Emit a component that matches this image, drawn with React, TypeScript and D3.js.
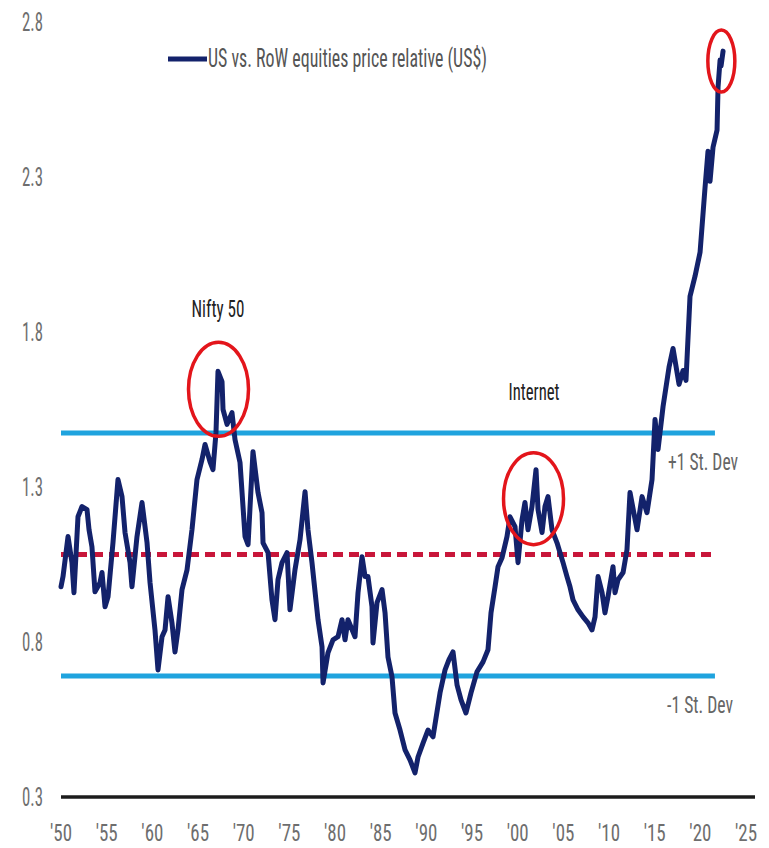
import React from "react";
import * as d3 from "d3";

// US vs. rest-of-world equities price relative (US$), sampled through time
const years: number[] = [
  1950.0, 1950.22, 1950.77, 1951.2, 1951.42, 1951.86, 1952.3, 1952.85, 1953.07, 1953.39,
  1953.72, 1954.27, 1954.49, 1954.82, 1955.15, 1955.69, 1956.24, 1956.68, 1957.01, 1957.56,
  1957.77, 1958.32, 1958.87, 1959.42, 1959.75, 1960.29, 1960.62, 1961.06, 1961.39, 1961.72,
  1962.15, 1962.48, 1962.81, 1963.25, 1963.8, 1964.34, 1964.89, 1965.44, 1965.77, 1966.31,
  1966.64, 1966.97, 1967.19, 1967.63, 1967.74, 1968.18, 1968.72, 1969.05, 1969.6, 1970.15,
  1970.48, 1971.02, 1971.57, 1972.01, 1972.12, 1972.67, 1973.1, 1973.43, 1973.76, 1974.2,
  1974.75, 1975.07, 1975.62, 1976.17, 1976.72, 1977.04, 1977.48, 1978.14, 1978.58, 1978.69,
  1979.23, 1979.78, 1980.33, 1980.77, 1981.1, 1981.42, 1982.19, 1982.52, 1982.96, 1983.29,
  1983.61, 1984.05, 1984.16, 1984.6, 1985.15, 1985.48, 1985.8, 1986.24, 1986.57, 1987.12,
  1987.67, 1988.21, 1988.76, 1989.09, 1989.64, 1990.18, 1990.73, 1991.5, 1992.05, 1992.48,
  1992.92, 1993.36, 1993.8, 1994.34, 1994.89, 1995.55, 1996.21, 1996.75, 1997.08, 1997.52,
  1997.85, 1998.29, 1998.83, 1999.16, 1999.71, 2000.04, 2000.48, 2000.8, 2001.13, 2001.57,
  2002.01, 2002.23, 2002.67, 2002.99, 2003.32, 2003.76, 2004.31, 2004.64, 2004.97, 2005.4,
  2005.73, 2006.06, 2006.61, 2007.16, 2007.7, 2008.14, 2008.47, 2008.8, 2009.24, 2009.56,
  2009.89, 2010.44, 2010.66, 2010.99, 2011.54, 2011.97, 2012.3, 2013.07, 2013.62, 2014.16,
  2014.71, 2015.04, 2015.37, 2015.92, 2016.57, 2017.01, 2017.67, 2018.11, 2018.43, 2018.87,
  2019.42, 2019.97, 2020.51, 2020.84, 2021.06, 2021.39, 2021.83, 2021.94, 2022.16, 2022.27,
  2022.49,
];

const relative: number[] = [
  0.978, 1.011, 1.14, 1.056, 0.959, 1.204, 1.237, 1.227, 1.162, 1.107,
  0.962, 0.991, 1.024, 0.914, 0.946, 1.12, 1.324, 1.269, 1.153, 1.056,
  0.978, 1.14, 1.25, 1.12, 0.991, 0.839, 0.71, 0.817, 0.839, 0.946,
  0.862, 0.768, 0.839, 0.969, 1.033, 1.162, 1.324, 1.389, 1.437, 1.382,
  1.356, 1.476, 1.673, 1.64, 1.55, 1.502, 1.54, 1.453, 1.379, 1.14,
  1.114, 1.414, 1.282, 1.217, 1.12, 1.088, 0.936, 0.872, 1.001, 1.056,
  1.088, 0.904, 1.033, 1.13, 1.285, 1.162, 1.056, 0.872, 0.784, 0.668,
  0.765, 0.807, 0.817, 0.872, 0.807, 0.872, 0.817, 0.959, 1.075, 1.011,
  1.011, 0.914, 0.797, 0.927, 0.969, 0.894, 0.752, 0.688, 0.571, 0.516,
  0.452, 0.42, 0.378, 0.429, 0.474, 0.516, 0.494, 0.636, 0.71, 0.743,
  0.768, 0.662, 0.613, 0.571, 0.636, 0.704, 0.736, 0.775, 0.894, 0.978,
  1.043, 1.072, 1.14, 1.204, 1.172, 1.056, 1.195, 1.25, 1.162, 1.237,
  1.356, 1.227, 1.153, 1.237, 1.269, 1.162, 1.12, 1.088, 1.056, 1.011,
  0.978, 0.936, 0.904, 0.881, 0.862, 0.839, 0.881, 1.011, 0.959, 0.894,
  0.946, 1.043, 0.959, 1.001, 1.024, 1.098, 1.282, 1.162, 1.269, 1.217,
  1.324, 1.518, 1.421, 1.56, 1.686, 1.747, 1.631, 1.676, 1.644, 1.915,
  1.98, 2.057, 2.264, 2.383, 2.286, 2.396, 2.451, 2.59, 2.677, 2.658,
  2.706,
];

const yTicks: number[] = [0.3, 0.8, 1.3, 1.8, 2.3, 2.8];
const yTickLabels: string[] = ["0.3", "0.8", "1.3", "1.8", "2.3", "2.8"];
const xTicks: number[] = [1950, 1955, 1960, 1965, 1970, 1975, 1980, 1985, 1990, 1995, 2000, 2005, 2010, 2015, 2020, 2025];
const xTickLabels: string[] = ["'50", "'55", "'60", "'65", "'70", "'75", "'80", "'85", "'90", "'95", "'00", "'05", "'10", "'15", "'20", "'25"];

// Long-run mean and ±1 standard deviation band
const meanValue = 1.082;
const stDev = 0.392;

// Highlighted episodes: label, year and level of the peak
const episodeLabels: string[] = ["Nifty 50", "Internet", ""];
const episodeYears: number[] = [1967.19, 2002.01, 2022.3];
const episodeValues: number[] = [1.673, 1.356, 2.69];

const legendLabel = "US vs. RoW equities price relative (US$)";

const FONT = "'Liberation Sans Narrow', 'Roboto Condensed', 'Liberation Sans', Arial, sans-serif";

export default function App() {
  const width = 769;
  const height = 848;
  const x = d3.scaleLinear().domain([1950, 2025]).range([61, 746]);
  const y = d3.scaleLinear().domain([0.3, 2.8]).range([797, 22]);

  const points: [number, number][] = years.map((yr, i) => [yr, relative[i]]);
  const line = d3
    .line<[number, number]>()
    .x((d) => x(d[0]))
    .y((d) => y(d[1]));

  const bandX0 = x(1950);
  const bandX1 = x(2021.6);

  // ellipse sizes around highlighted episodes
  const ellipseR: [number, number][] = [[30, 47], [30, 46], [13.5, 31]];
  const ellipseDy: number[] = [18, 29, 5];
  const ellipseDx: number[] = [0.5, -2.5, 0];

  return (
    <svg
      width={width}
      height={height}
      style={{ position: "absolute", left: 0, top: 0, background: "#fff" }}
      fontFamily={FONT}
    >
      {/* y tick labels */}
      {yTicks.map((t, i) => (
        <text
          key={"yt" + i}
          x={22}
          y={y(t) + 9}
          fontSize={25}
          fill="#6e6e6e"
          textLength={21}
          lengthAdjust="spacingAndGlyphs"
        >
          {yTickLabels[i]}
        </text>
      ))}

      {/* x tick labels */}
      {xTicks.map((t, i) => (
        <text
          key={"xt" + i}
          x={x(t)}
          y={841}
          fontSize={24}
          fill="#6e6e6e"
          textAnchor="middle"
          textLength={22}
          lengthAdjust="spacingAndGlyphs"
        >
          {xTickLabels[i]}
        </text>
      ))}

      {/* baseline */}
      <line x1={x(1950)} x2={755} y1={y(0.3)} y2={y(0.3)} stroke="#1c1c1c" strokeWidth={3.5} />

      {/* ±1 st. dev band */}
      <line x1={bandX0} x2={bandX1} y1={y(meanValue + stDev)} y2={y(meanValue + stDev)} stroke="#1fa3de" strokeWidth={5} />
      <line x1={bandX0} x2={bandX1} y1={y(meanValue - stDev)} y2={y(meanValue - stDev)} stroke="#1fa3de" strokeWidth={5} />
      {/* mean */}
      <line
        x1={bandX0}
        x2={bandX1}
        y1={y(meanValue)}
        y2={y(meanValue)}
        stroke="#c8163a"
        strokeWidth={5}
        strokeDasharray="10 6"
      />

      {/* relative price series */}
      <path
        d={line(points) || ""}
        fill="none"
        stroke="#13226b"
        strokeWidth={5}
        strokeLinejoin="round"
        strokeLinecap="round"
      />

      {/* band labels */}
      <text x={668} y={470} fontSize={24} fill="#666" textLength={70} lengthAdjust="spacingAndGlyphs">
        +1 St. Dev
      </text>
      <text x={667} y={713} fontSize={24} fill="#666" textLength={66} lengthAdjust="spacingAndGlyphs">
        -1 St. Dev
      </text>

      {/* highlighted episodes */}
      {episodeYears.map((yr, i) => (
        <ellipse
          key={"ep" + i}
          cx={x(yr) + ellipseDx[i]}
          cy={y(episodeValues[i]) + ellipseDy[i]}
          rx={ellipseR[i][0]}
          ry={ellipseR[i][1]}
          fill="none"
          stroke="#e3151b"
          strokeWidth={3.5}
        />
      ))}
      <text x={x(episodeYears[0])} y={317} fontSize={23} fill="#222" textAnchor="middle" textLength={53} lengthAdjust="spacingAndGlyphs">
        {episodeLabels[0]}
      </text>
      <text x={x(episodeYears[1]) - 2} y={400} fontSize={23} fill="#222" textAnchor="middle" textLength={51} lengthAdjust="spacingAndGlyphs">
        {episodeLabels[1]}
      </text>

      {/* legend */}
      <line x1={168} x2={207} y1={59} y2={59} stroke="#13226b" strokeWidth={5} />
      <text x={208} y={67} fontSize={26} fill="#555" textLength={279} lengthAdjust="spacingAndGlyphs">
        {legendLabel}
      </text>
    </svg>
  );
}
